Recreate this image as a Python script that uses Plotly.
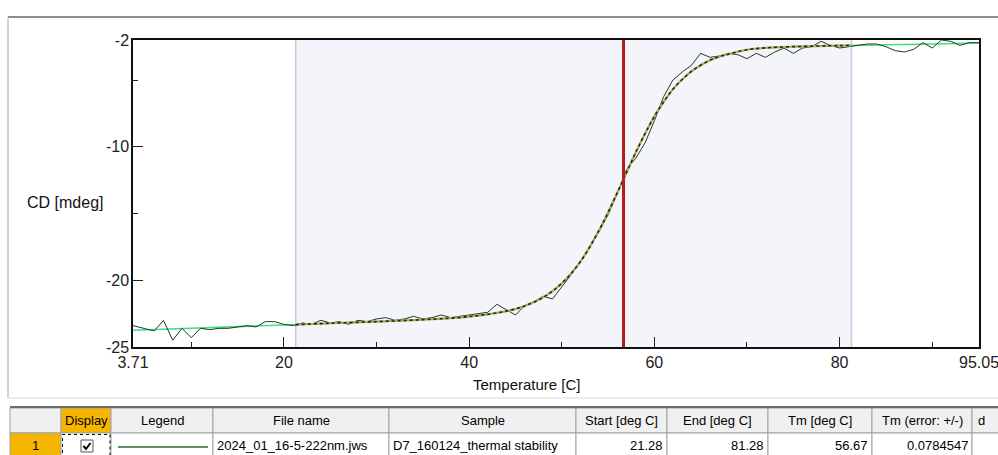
import plotly.graph_objects as go

# ---------------- data ----------------
temp_raw = [3.71, 5, 6, 7, 8, 9, 10, 11, 12, 13, 14, 15, 16, 17, 18, 19, 20, 21, 22, 23,
            24, 25, 26, 27, 28, 29, 30, 31, 32, 33, 34, 35, 36, 37, 38, 39, 40, 41, 42, 43,
            44, 45, 46, 47, 48, 49, 50, 51, 52, 53, 54, 55, 56, 57, 58, 59, 60, 61, 62, 63,
            64, 65, 66, 67, 68, 69, 70, 71, 72, 73, 74, 75, 76, 77, 78, 79, 80, 81, 82, 83,
            84, 85, 86, 87, 88, 89, 90, 91, 92, 93, 94, 95.05]
cd_raw = [-23.4, -23.6, -23.8, -23.0, -24.5, -23.6, -24.3, -23.6, -23.7, -23.6, -23.6, -23.5,
          -23.4, -23.5, -23.1, -23.1, -23.3, -23.4, -23.2, -23.3, -23.0, -23.2, -23.1, -23.3,
          -23.0, -23.1, -22.9, -22.8, -23.0, -22.9, -22.7, -22.9, -22.8, -22.6, -22.8, -22.7,
          -22.6, -22.5, -22.4, -21.8, -22.2, -22.6, -21.9, -21.6, -21.2, -21.4, -20.5, -19.6,
          -18.6, -17.5, -16.4, -15.1, -13.5, -11.7, -10.85, -9.7, -8.05, -6.25, -5.0, -4.4,
          -3.9, -3.0, -3.3, -3.2, -3.0, -3.1, -3.4, -3.0, -3.3, -2.9, -2.6, -3.0,
          -2.6, -2.5, -2.1, -2.4, -2.6, -2.5, -2.4, -2.3, -2.3, -2.5, -2.8, -2.9,
          -2.7, -2.2, -2.6, -2.0, -2.1, -2.4, -2.2, -2.2]

base_temp = [3.71, 10, 20, 30, 40, 45, 48, 50, 52, 54, 55, 56, 57, 58, 59, 60, 61, 62, 63,
             64, 65, 66, 67, 68, 70, 72, 75, 80, 85, 90, 95.05]
base_cd = [-23.75, -23.6, -23.35, -23.1, -22.72, -22.15, -21.28, -20.23, -18.62, -16.3,
           -14.92, -13.44, -11.92, -10.41, -9.01, -7.72, -6.64, -5.69, -4.96, -4.35, -3.89,
           -3.52, -3.25, -3.06, -2.73, -2.59, -2.5, -2.42, -2.36, -2.3, -2.22]

fit_temp = [21.28, 25, 30, 35, 40, 45, 48, 50, 52, 54, 55, 56, 57, 58, 59, 60, 61, 62, 63,
            64, 65, 66, 67, 68, 70, 72, 75, 80, 81.28]
fit_cd = [-23.32, -23.22, -23.1, -22.95, -22.72, -22.15, -21.28, -20.23, -18.62, -16.3,
          -14.92, -13.44, -11.92, -10.41, -9.01, -7.72, -6.64, -5.69, -4.96, -4.35, -3.89,
          -3.52, -3.25, -3.06, -2.73, -2.59, -2.5, -2.42, -2.41]

start_c = 21.28
end_c = 81.28
tm_c = 56.67
tm_err = 0.0784547

x_ticks = [3.71, 20, 40, 60, 80, 95.05]
x_ticklabels = ["3.71", "20", "40", "60", "80", "95.05"]
x_minor = [10, 30, 50, 70, 90]
y_ticks = [-25, -20, -10, -2]
y_ticklabels = ["-25", "-20", "-10", "-2"]
y_minor = [-15, -5]

table_headers = ["", "Display", "Legend", "File name", "Sample", "Start [deg C]",
                 "End [deg C]", "Tm [deg C]", "Tm (error: +/-)", "d"]
row_number = "1"
file_name = "2024_01_16-5-222nm.jws"
sample_name = "D7_160124_thermal stability"

# ---------------- layout helpers ----------------
W, H = 998, 455


def px(x):
    return x / W


def py(y):
    return 1 - y / H


FONT = "Liberation Sans, Arial, sans-serif"

fig = go.Figure()

fig.add_trace(go.Scatter(x=base_temp, y=base_cd, mode="lines",
                         line=dict(color="#3fdc8a", width=1.6, shape="spline"),
                         hoverinfo="skip", showlegend=False))
fig.add_trace(go.Scatter(x=temp_raw, y=cd_raw, mode="lines",
                         line=dict(color="#1f3b24", width=1),
                         showlegend=False))
fig.add_trace(go.Scatter(x=fit_temp, y=fit_cd, mode="lines",
                         line=dict(color="#b0ae5c", width=2.2, shape="spline"),
                         hoverinfo="skip", showlegend=False))
fig.add_trace(go.Scatter(x=fit_temp, y=fit_cd, mode="lines",
                         line=dict(color="#2a2216", width=1.6, dash="dot", shape="spline"),
                         hoverinfo="skip", showlegend=False))

shapes = []
# analysis range shading
shapes.append(dict(type="rect", xref="x", yref="y domain", x0=start_c, x1=end_c, y0=0, y1=1,
                   fillcolor="#f4f5fb", line=dict(width=0), layer="below"))
for xv in (start_c, end_c):
    shapes.append(dict(type="line", xref="x", yref="y domain", x0=xv, x1=xv, y0=0, y1=1,
                       line=dict(color="#c6cadc", width=1.5), layer="below"))
# Tm line
shapes.append(dict(type="line", xref="x", yref="y domain", x0=tm_c, x1=tm_c, y0=0, y1=1,
                   line=dict(color="#b01e1e", width=3), layer="above"))

# outer panel border
shapes.append(dict(type="line", xref="paper", yref="paper", x0=px(8), x1=px(1000),
                   y0=py(17), y1=py(17), line=dict(color="#8e8e8e", width=2)))
shapes.append(dict(type="line", xref="paper", yref="paper", x0=px(8), x1=px(8),
                   y0=py(17), y1=py(398), line=dict(color="#a8a8a8", width=1)))
shapes.append(dict(type="line", xref="paper", yref="paper", x0=px(8), x1=px(1000),
                   y0=py(398), y1=py(398), line=dict(color="#dadada", width=1)))

# table
col_edges = [10, 61, 111, 213, 389, 576, 667, 768, 872, 972, 1010]
hdr_top, hdr_bot, row_bot = 408, 433, 462
ORANGE = "#f6b600"
for i in range(len(col_edges) - 1):
    x0, x1 = col_edges[i], col_edges[i + 1]
    shapes.append(dict(type="rect", xref="paper", yref="paper", x0=px(x0), x1=px(x1),
                       y0=py(hdr_bot), y1=py(hdr_top),
                       fillcolor=ORANGE if i == 1 else "#f0f0f0",
                       line=dict(color="#a0a0a0", width=1)))
    shapes.append(dict(type="rect", xref="paper", yref="paper", x0=px(x0), x1=px(x1),
                       y0=py(row_bot), y1=py(hdr_bot),
                       fillcolor=ORANGE if i == 0 else "#ffffff",
                       line=dict(color="#a0a0a0", width=1)))
shapes.append(dict(type="line", xref="paper", yref="paper", x0=px(10), x1=px(1000),
                   y0=py(407), y1=py(407), line=dict(color="#6e6e6e", width=2)))
# focus rectangle in Display cell
shapes.append(dict(type="rect", xref="paper", yref="paper", x0=px(62.5), x1=px(110),
                   y0=py(456), y1=py(434.5), line=dict(color="#000000", width=1, dash="dot")))
# checkbox
shapes.append(dict(type="rect", xref="paper", yref="paper", x0=px(81), x1=px(93),
                   y0=py(452), y1=py(440), fillcolor="#ffffff",
                   line=dict(color="#555555", width=1)))
shapes.append(dict(type="path", xref="paper", yref="paper",
                   path=f"M {px(83.5)} {py(446)} L {px(86)} {py(449)} L {px(90.5)} {py(443)}",
                   line=dict(color="#000000", width=2)))
# legend line sample
shapes.append(dict(type="line", xref="paper", yref="paper", x0=px(118), x1=px(208),
                   y0=py(447), y1=py(447), line=dict(color="#2f6a32", width=1.5)))

annotations = []
# axis titles
annotations.append(dict(text="Temperature [C]", xref="paper", yref="paper", x=px(527), y=py(384),
                        showarrow=False, font=dict(family=FONT, size=15, color="#111111"),
                        xanchor="center", yanchor="middle"))
annotations.append(dict(text="CD [mdeg]", xref="paper", yref="paper", x=px(25), y=py(202),
                        showarrow=False, font=dict(family=FONT, size=16, color="#111111"),
                        xanchor="left", yanchor="middle"))

TFONT = dict(family=FONT, size=13, color="#000000")
for i, h in enumerate(table_headers):
    if not h:
        continue
    if i == len(table_headers) - 1:
        annotations.append(dict(text=h, xref="paper", yref="paper", x=px(976), y=py(420.5),
                                showarrow=False, font=TFONT, xanchor="left", yanchor="middle"))
    else:
        cx = (col_edges[i] + col_edges[i + 1]) / 2
        annotations.append(dict(text=h, xref="paper", yref="paper", x=px(cx), y=py(420.5),
                                showarrow=False, font=TFONT, xanchor="center", yanchor="middle"))

ROW_Y = py(445.5)
annotations.append(dict(text=row_number, xref="paper", yref="paper",
                        x=px((col_edges[0] + col_edges[1]) / 2), y=ROW_Y,
                        showarrow=False, font=TFONT, xanchor="center", yanchor="middle"))
annotations.append(dict(text=file_name, xref="paper", yref="paper", x=px(col_edges[3] + 2),
                        y=ROW_Y, showarrow=False, font=TFONT, xanchor="left", yanchor="middle"))
annotations.append(dict(text=sample_name, xref="paper", yref="paper", x=px(col_edges[4] + 2),
                        y=ROW_Y, showarrow=False, font=TFONT, xanchor="left", yanchor="middle"))
for val, ci in ((f"{start_c:.2f}", 6), (f"{end_c:.2f}", 7), (f"{tm_c:.2f}", 8), (f"{tm_err}", 9)):
    annotations.append(dict(text=val, xref="paper", yref="paper", x=px(col_edges[ci] - 2),
                            y=ROW_Y, showarrow=False, font=TFONT, xanchor="right",
                            yanchor="middle"))

fig.update_layout(
    width=W, height=H,
    margin=dict(l=0, r=0, t=0, b=0, autoexpand=False),
    paper_bgcolor="#ffffff",
    plot_bgcolor="#ffffff",
    showlegend=False,
    shapes=shapes,
    annotations=annotations,
    xaxis=dict(domain=[px(133), px(979)], range=[3.71, 95.05], automargin=False,
               tickmode="array", tickvals=x_ticks, ticktext=x_ticklabels,
               ticks="inside", ticklen=10, tickwidth=1.2, tickcolor="#222222",
               showline=True, linecolor="#111111", linewidth=1.5, mirror=True,
               showgrid=False, zeroline=False, ticklabelstandoff=0,
               ticklabeloverflow="allow",
               tickfont=dict(family=FONT, size=16, color="#222222"),
               minor=dict(tickmode="array", tickvals=x_minor, ticks="inside", ticklen=5,
                          tickwidth=1.2, tickcolor="#222222", showgrid=False)),
    yaxis=dict(domain=[py(347), py(40)], range=[-25, -2], automargin=False,
               tickmode="array", tickvals=y_ticks, ticktext=y_ticklabels,
               ticks="inside", ticklen=10, tickwidth=1.2, tickcolor="#222222",
               showline=True, linecolor="#111111", linewidth=1.5, mirror=True,
               showgrid=False, zeroline=False, ticklabelstandoff=-1,
               ticklabeloverflow="allow",
               tickfont=dict(family=FONT, size=16, color="#222222"),
               minor=dict(tickmode="array", tickvals=y_minor, ticks="inside", ticklen=5,
                          tickwidth=1.2, tickcolor="#222222", showgrid=False)),
)

fig.write_html("out.html", config={"displayModeBar": False},
               post_script="document.body.style.margin='0';document.body.style.overflow='hidden';")
